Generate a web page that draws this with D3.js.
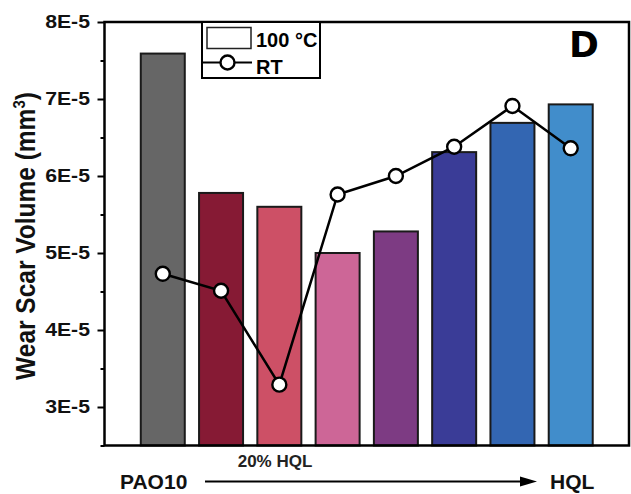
<!DOCTYPE html>
<html>
<head>
<meta charset="utf-8">
<script src="https://cdn.jsdelivr.net/npm/d3@7"></script>
<style>
  body { margin: 0; background: #fff; }
  svg { display: block; font-family: "Liberation Sans", Arial, sans-serif; font-weight: bold; }
</style>
</head>
<body>
<div id="chart"></div>
<script>
// samples from PAO10 (1) up to neat HQL (8)
var samples = [1, 2, 3, 4, 5, 6, 7, 8];
var hot = [7.59e-5, 5.78e-5, 5.60e-5, 5.00e-5, 5.28e-5, 6.31e-5, 6.69e-5, 6.93e-5]; // 100 °C
var rt = [4.73e-5, 4.51e-5, 3.29e-5, 5.76e-5, 6.00e-5, 6.38e-5, 6.91e-5, 6.36e-5];  // RT
var barColors = ["#666666", "#861a34", "#cd5066", "#cd6697", "#7d3b83", "#3a3c97", "#3366b2", "#418dcb"];
var majorTicks = [3e-5, 4e-5, 5e-5, 6e-5, 7e-5, 8e-5];
var minorTicks = [2.5e-5, 3.5e-5, 4.5e-5, 5.5e-5, 6.5e-5, 7.5e-5];

var width = 631, height = 494;
var margin = {top: 22, right: 2, bottom: 48.5, left: 104.5};
var stretch = 1.18; // the source figure's lettering is a bit wide

var svg = d3.select("#chart").append("svg")
    .attr("width", width)
    .attr("height", height);

var x = d3.scaleLinear()
    .domain([0, 9])
    .range([margin.left, width - margin.right]);

var y = d3.scaleLinear()
    .domain([2.5e-5, 8e-5])
    .range([height - margin.bottom, margin.top]);

var barW = 44;

// bars (100 °C)
svg.append("g").selectAll("rect")
    .data(samples)
    .enter().append("rect")
    .attr("x", function(d) { return x(d) - barW / 2; })
    .attr("y", function(d, i) { return y(hot[i]); })
    .attr("width", barW)
    .attr("height", function(d, i) { return y(2.5e-5) - y(hot[i]); })
    .attr("fill", function(d, i) { return barColors[i]; })
    .attr("stroke", "#1a1a1a")
    .attr("stroke-width", 2);

// RT line
var line = d3.line()
    .x(function(d) { return x(d); })
    .y(function(d, i) { return y(rt[i]); });

svg.append("path")
    .datum(samples)
    .attr("d", line)
    .attr("fill", "none")
    .attr("stroke", "#000")
    .attr("stroke-width", 2.5);

svg.append("g").selectAll("circle")
    .data(samples)
    .enter().append("circle")
    .attr("cx", function(d) { return x(d); })
    .attr("cy", function(d, i) { return y(rt[i]); })
    .attr("r", 7)
    .attr("fill", "#fff")
    .attr("stroke", "#000")
    .attr("stroke-width", 2.4);

// y axis, major + minor ticks
var yAxis = svg.append("g")
    .attr("transform", "translate(" + margin.left + ",0)")
    .call(d3.axisLeft(y).tickValues(majorTicks).tickSize(7)
        .tickFormat(function(d) { return Math.round(d * 1e5) + "E-5"; }));
yAxis.select(".domain").remove();
yAxis.selectAll("line").attr("stroke-width", 2);
yAxis.selectAll("text")
    .attr("x", -14.5 / stretch)
    .attr("transform", "scale(" + stretch + ",1)")
    .attr("font-size", 18)
    .attr("font-family", "Liberation Sans, Arial, sans-serif")
    .attr("font-weight", "bold")
    .attr("fill", "#111");

var yMinor = svg.append("g")
    .attr("transform", "translate(" + margin.left + ",0)")
    .call(d3.axisLeft(y).tickValues(minorTicks).tickSize(4).tickFormat(""));
yMinor.select(".domain").remove();
yMinor.selectAll("line").attr("stroke-width", 2);

// frame
svg.append("rect")
    .attr("x", margin.left)
    .attr("y", margin.top)
    .attr("width", width - margin.right - margin.left)
    .attr("height", height - margin.bottom - margin.top)
    .attr("fill", "none")
    .attr("stroke", "#000")
    .attr("stroke-width", 2.5);

// y title
var title = svg.append("text")
    .attr("transform", "translate(35,236) rotate(-90) scale(1,1.12)")
    .attr("text-anchor", "middle")
    .attr("font-size", 24.5)
    .attr("fill", "#111");
title.append("tspan").text("Wear Scar Volume (mm");
title.append("tspan").attr("dy", -9).attr("font-size", 15).text("3");
title.append("tspan").attr("dy", 9).text(")");

// legend
var lg = svg.append("g");
lg.append("rect")
    .attr("x", 202).attr("y", 22).attr("width", 118).attr("height", 56)
    .attr("fill", "#fff").attr("stroke", "#000").attr("stroke-width", 2);
lg.append("rect")
    .attr("x", 207).attr("y", 27.5).attr("width", 44).attr("height", 21)
    .attr("fill", "#fff").attr("stroke", "#222").attr("stroke-width", 1.5);
lg.append("text").attr("x", 256).attr("y", 47).attr("font-size", 20).text("100 °C");
lg.append("line")
    .attr("x1", 203).attr("x2", 252).attr("y1", 62.5).attr("y2", 62.5)
    .attr("stroke", "#000").attr("stroke-width", 2.2);
lg.append("circle")
    .attr("cx", 227.5).attr("cy", 62.5).attr("r", 7)
    .attr("fill", "#fff").attr("stroke", "#000").attr("stroke-width", 2.4);
lg.append("text").attr("x", 256).attr("y", 73.5).attr("font-size", 20).text("RT");

// panel letter
svg.append("text")
    .attr("x", 569).attr("y", 57)
    .attr("font-size", 36)
    .attr("font-family", "DejaVu Sans, sans-serif")
    .text("D");

// x annotations
svg.append("text")
    .attr("x", 275).attr("y", 467)
    .attr("text-anchor", "middle")
    .attr("font-size", 17)
    .attr("fill", "#222")
    .text("20% HQL");

svg.append("text")
    .attr("x", 120).attr("y", 489)
    .attr("font-size", 21)
    .attr("fill", "#111")
    .text("PAO10");

svg.append("text")
    .attr("x", 550).attr("y", 489)
    .attr("font-size", 21)
    .attr("fill", "#111")
    .text("HQL");

svg.append("line")
    .attr("x1", 205).attr("x2", 522).attr("y1", 481.5).attr("y2", 481.5)
    .attr("stroke", "#000").attr("stroke-width", 2);
svg.append("path")
    .attr("d", "M520,476.5 L537,481.5 L520,486.5 Z")
    .attr("fill", "#000");
</script>
</body>
</html>
